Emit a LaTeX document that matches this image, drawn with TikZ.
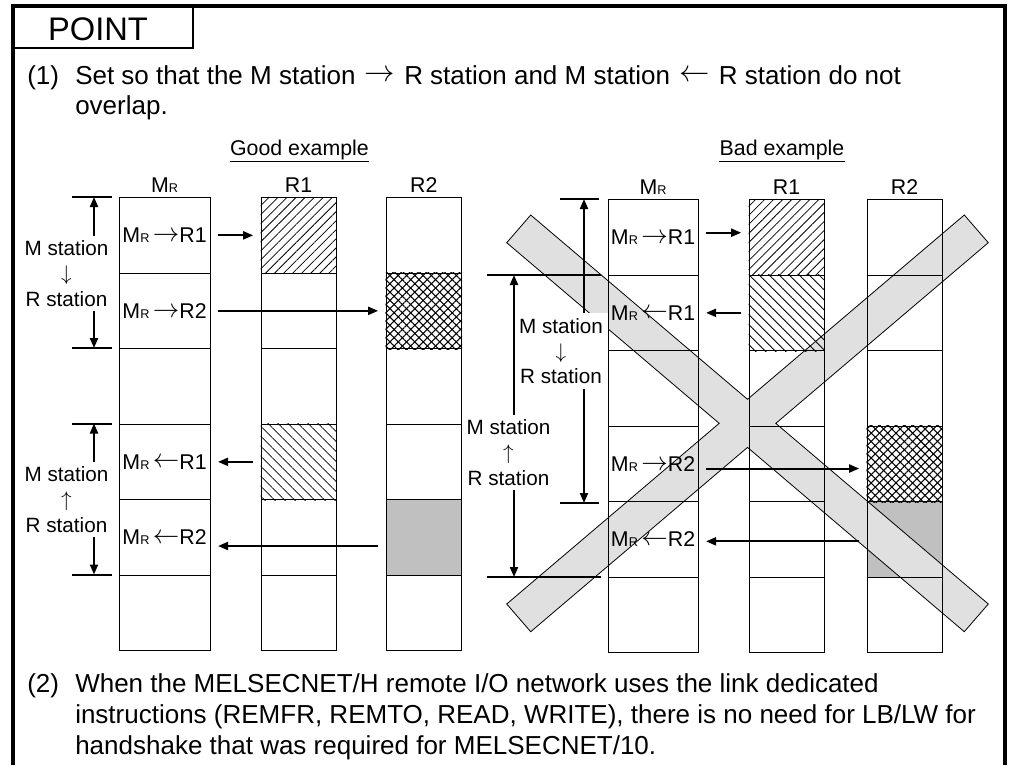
\documentclass[tikz,border=0pt]{standalone}
\usepackage{fontspec}
\usepackage{graphicx}
\setmainfont{Liberation Sans}
\usetikzlibrary{arrows.meta,patterns.meta}

\pgfdeclarelayer{bg}
\pgfsetlayers{bg,main}

\definecolor{lowgray}{RGB}{192,192,192}
\definecolor{xgray}{RGB}{224,224,224}

\newcommand{\MR}{M{\fontsize{9.5}{9.5}\selectfont R}}
\newcommand{\arrsym}[3]{\raisebox{#3}{\scalebox{#2}{$#1$}}}
\newcommand{\cellr}{\,\arrsym{\rightarrow}{1.15}{0.9pt}}
\newcommand{\celll}{\,\arrsym{\leftarrow}{1.15}{0.9pt}}
\newcommand{\textr}{\hspace{0.35em}\arrsym{\rightarrow}{1.1}{1.8pt}\hspace{0.35em}}
\newcommand{\textl}{\hspace{0.35em}\arrsym{\leftarrow}{1.1}{1.8pt}\hspace{0.35em}}

\begin{document}
\begin{tikzpicture}[x=0.75pt,y=-0.75pt,
  body/.style={font=\fontsize{19.5}{22}\selectfont,inner sep=0,anchor=base west},
  lbl/.style={font=\fontsize{16}{19}\selectfont,inner sep=0},
  cell/.style={draw,line width=0.9pt,anchor=north west,minimum height=75.5*0.75pt,inner sep=0},
  station/.style={font=\fontsize{15.5}{19}\selectfont,align=center,fill=white,inner sep=3.5pt},
  arr/.style={line width=1.5pt,-{Triangle[length=7.5pt,width=6pt]},shorten <=5.5pt,shorten >=5.5pt},
  dimarr/.style={line width=1.5pt,-{Triangle[length=7.5pt,width=6pt]}},
  tickline/.style={line width=1.5pt},
  hatchne/.style={pattern={Lines[angle=45,distance=4.8pt,line width=0.6pt]}},
  hatchnw/.style={pattern={Lines[angle=-45,distance=5.3pt,line width=0.6pt]}},
  xhatcha/.style={pattern={Lines[angle=45,distance=4.4pt,line width=0.8pt]}},
  xhatchb/.style={pattern={Lines[angle=-45,distance=4.4pt,line width=0.8pt]}},
  xmark/.style={fill=xgray,draw=black,line width=0.6pt}]
\useasboundingbox (0,0) rectangle (1010,765);

% frame and heading
\draw[line width=3pt] (12.5,765) -- (12.5,6) -- (1005,6) -- (1005,765);
\draw[line width=1.5pt] (12.5,48) -- (193,48) -- (193,6);
\node[font=\fontsize{24.5}{28}\selectfont,anchor=base] (point) at (98,40) {POINT};

\node[body] (n1) at (27,84) {(1)};
\node[body] (t1a) at (75,84) {Set so that the M station\textr R station and M station\textl R station do not};
\node[body] (t1b) at (75,114) {overlap.};

% good example
\node[lbl,anchor=base] (good) at (299.5,155) {Good example};
\draw[line width=0.9pt] ([yshift=-1.6pt]good.south west) -- ([yshift=-1.6pt]good.south east);

\foreach \c/\x/\w in {M/118.5/91,A/260.5/75,B/385.5/75.5}
  \foreach \r in {1,...,6}
    \node[cell,minimum width=\w*0.75pt] (g\c\r) at (\x,{197+75.5*(\r-1)}) {};
\foreach \c/\t in {M/\MR,A/R1,B/R2}
  \node[lbl,anchor=base] (gH\c) at ([yshift=3.4pt]g\c1.north) {\t};

\path[hatchne] (gA1.north west) rectangle (gA1.south east);
\path[hatchnw] (gA4.north west) rectangle (gA4.south east);
\path[xhatcha] (gB2.north west) rectangle (gB2.south east);
\path[xhatchb] (gB2.north west) rectangle (gB2.south east);

\node[lbl] (gL1) at (gM1) {\MR\cellr R1};
\node[lbl] (gL2) at (gM2) {\MR\cellr R2};
\node[lbl] (gL4) at (gM4) {\MR\celll R1};
\node[lbl] (gL5) at (gM5) {\MR\celll R2};

\draw[arr] (gM1.east) -- (gA1.west);
\draw[arr] (gM2.east) -- (gB2.west);
\draw[arr] (gA4.west) -- (gM4.east);
\draw[arr] ([yshift=-6.5pt]gB5.west) -- ([yshift=-6.5pt]gM5.east);

\node[station] (gS1) at (66.5,273.5) {M station\\\arrsym{\downarrow}{1.1}{0pt}\\R station};
\node[station] (gS2) at (66.5,499.5) {M station\\\arrsym{\uparrow}{1.1}{0pt}\\R station};
\coordinate (gT1) at (94,197);
\coordinate (gT2) at (94,348);
\coordinate (gT3) at (94,423.5);
\coordinate (gT4) at (94,574.5);
\foreach \t in {1,...,4}
  \draw[tickline] ([xshift=-16.5pt]gT\t) -- ([xshift=13.5pt]gT\t);
\draw[dimarr] (gS1.north -| gT1) -- (gT1);
\draw[dimarr] (gS1.south -| gT2) -- (gT2);
\draw[dimarr] (gS2.north -| gT3) -- (gT3);
\draw[dimarr] (gS2.south -| gT4) -- (gT4);

% bad example
\node[lbl,anchor=base] (bad) at (782,155) {Bad example};
\draw[line width=0.9pt] ([yshift=-1.6pt]bad.south west) -- ([yshift=-1.6pt]bad.south east);

\foreach \c/\x/\w in {M/607.5/90,A/748.5/75,B/866.5/75}
  \foreach \r in {1,...,6}
    \node[cell,minimum width=\w*0.75pt] (b\c\r) at (\x,{199+75.5*(\r-1)}) {};
\foreach \c/\t in {M/\MR,A/R1,B/R2}
  \node[lbl,anchor=base] (bH\c) at ([yshift=3.4pt]b\c1.north) {\t};

\path[hatchne] (bA1.north west) rectangle (bA1.south east);
\path[hatchnw] (bA2.north west) rectangle (bA2.south east);
\path[xhatcha] (bB4.north west) rectangle (bB4.south east);
\path[xhatchb] (bB4.north west) rectangle (bB4.south east);

\node[lbl] (bL1) at (bM1) {\MR\cellr R1};
\node[lbl] (bL2) at (bM2) {\MR\celll R1};
\node[lbl] (bL4) at (bM4) {\MR\cellr R2};
\node[lbl] (bL5) at (bM5) {\MR\celll R2};

\draw[arr] ([yshift=3.5pt]bM1.east) -- ([yshift=3.5pt]bA1.west);
\draw[arr] (bA2.west) -- (bM2.east);
\draw[arr] ([yshift=-3.5pt]bM4.east) -- ([yshift=-3.5pt]bB4.west);
\draw[arr] ([yshift=-1.5pt]bB5.west) -- ([yshift=-1.5pt]bM5.east);

\node[station] (bS1) at (561,351) {M station\\\arrsym{\downarrow}{1.1}{0pt}\\R station};
\node[station] (bS2) at (508.5,452.5) {M station\\\arrsym{\uparrow}{1.1}{0pt}\\R station};
\coordinate (bT1) at (584,199);
\coordinate (bT2) at (584,503);
\coordinate (bT3) at (514,275);
\coordinate (bT4) at (514,577);
\draw[tickline] (560,199) -- (599,199);
\draw[tickline] (560,503) -- (599,503);
\draw[tickline] (487,275) -- (600.7,275);
\draw[tickline] (487,577) -- (600.7,577);
\draw[dimarr] (bS1.north -| bT1) -- (bT1);
\draw[dimarr] (bS1.south -| bT2) -- (bT2);
\draw[dimarr] (bS2.north -| bT3) -- (bT3);
\draw[dimarr] (bS2.south -| bT4) -- (bT4);

\begin{pgfonlayer}{bg}
  \fill[lowgray] (gB5.north west) rectangle (gB5.south east);
  \fill[lowgray] (bB5.north west) rectangle (bB5.south east);
  \begin{scope}[shift={(747.5,423.35)}]
    \path[xmark] (-216.8,-208.35) -- (0,-24.05) -- (216.8,-208.35) -- (240.8,-180.65)
      -- (28.3,0) -- (240.8,180.65) -- (216.8,208.35) -- (0,24.05) -- (-216.8,208.35)
      -- (-240.8,180.65) -- (-28.3,0) -- (-240.8,-180.65) -- cycle;
  \end{scope}
\end{pgfonlayer}

\node[body] (n2) at (27,692.3) {(2)};
\node[body] (t2a) at (75,692.3) {When the MELSECNET/H remote I/O network uses the link dedicated};
\node[body] (t2b) at (75,723.2) {instructions (REMFR, REMTO, READ, WRITE), there is no need for LB/LW for};
\node[body] (t2c) at (75,754) {handshake that was required for MELSECNET/10.};

\end{tikzpicture}
\end{document}
